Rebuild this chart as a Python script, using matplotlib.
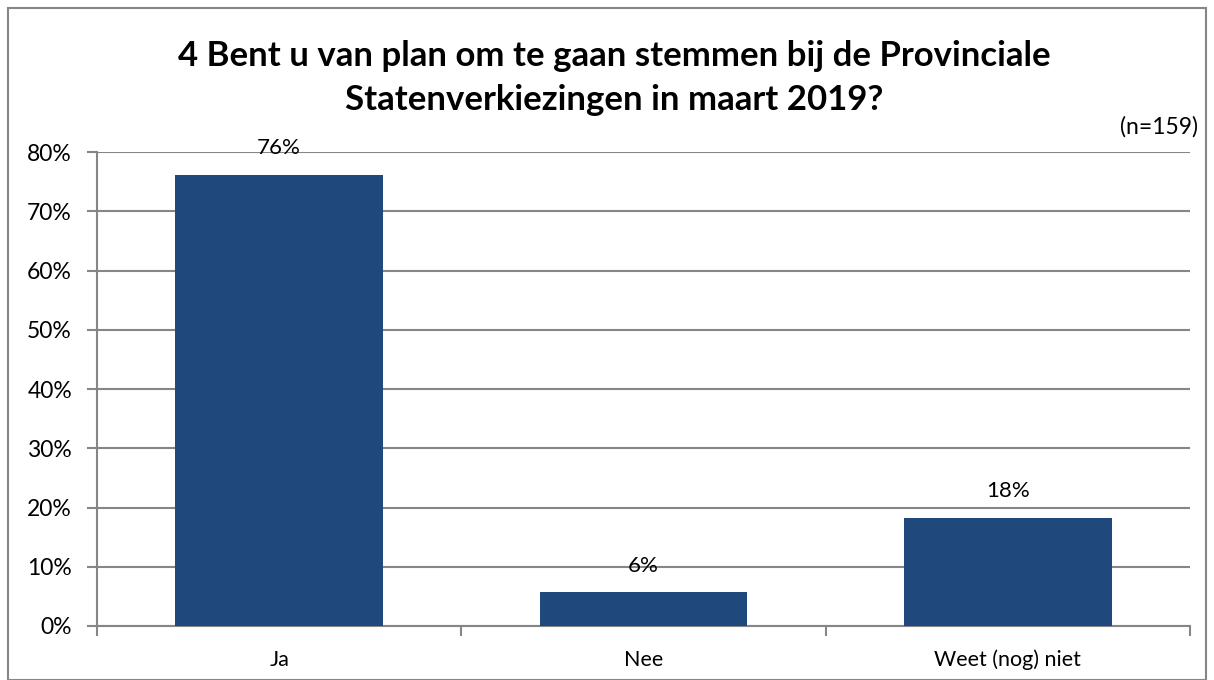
import matplotlib
matplotlib.use("Agg")
import matplotlib.pyplot as plt
from matplotlib.patches import Rectangle
from matplotlib.ticker import FixedLocator

plt.rcParams['font.family'] = ['Lato', 'DejaVu Sans']

categories = ["Ja", "Nee", "Weet (nog) niet"]
values = [76.1, 5.7, 18.2]
labels = ["76%", "6%", "18%"]
yticks = [0, 10, 20, 30, 40, 50, 60, 70, 80]
ytick_labels = ["0%", "10%", "20%", "30%", "40%", "50%", "60%", "70%", "80%"]
title = "4 Bent u van plan om te gaan stemmen bij de Provinciale\nStatenverkiezingen in maart 2019?"
note = "(n=159)"

W, H = 1214, 680
fig = plt.figure(figsize=(W / 100, H / 100), dpi=100)
fig.patch.set_facecolor("white")

# outer frame
fig.patches.append(Rectangle((8 / W, 0), (1206 - 8) / W, (H - 8) / H, transform=fig.transFigure,
                             fill=False, edgecolor="#868686", linewidth=1.5))

ax = fig.add_axes([97 / W, (H - 626) / H, (1190 - 97) / W, (626 - 152) / H])
x = list(range(len(categories)))
ax.bar(x, values, width=0.57, color="#1F497D", zorder=3)
ax.set_xlim(-0.5, len(categories) - 0.5)
ax.set_ylim(0, 80)

ax.set_yticks(yticks)
ax.set_yticklabels(ytick_labels, fontsize=16.5)
ax.yaxis.grid(True, color="#868686", linewidth=1.5, zorder=0)
ax.set_axisbelow(True)

ax.set_xticks(x)
ax.set_xticklabels(categories, fontsize=15.5)
ax.xaxis.set_minor_locator(FixedLocator([-0.5 + i for i in range(len(categories) + 1)]))
ax.tick_params(axis="x", which="major", length=0, pad=17)
ax.tick_params(axis="x", which="minor", length=7, width=1.5, color="#868686", direction="out")
ax.tick_params(axis="y", length=7, width=1.5, color="#868686", direction="out", pad=11)

for s in ["top", "right"]:
    ax.spines[s].set_visible(False)
for s in ["left", "bottom"]:
    ax.spines[s].set_color("#868686")
    ax.spines[s].set_linewidth(1.5)

for xi, v, lab in zip(x, values, labels):
    ax.annotate(lab, (xi, v), xytext=(0, 12), textcoords="offset points", ha="center",
                va="bottom", fontsize=16)

fig.text(614 / W, 1 - 78 / H, title, ha="center", va="center", fontsize=25,
         fontweight="bold", linespacing=1.5)
fig.text(1198 / W, 1 - 127 / H, note, ha="right", va="center", fontsize=16.5)

fig.savefig("out.png", dpi=100)
